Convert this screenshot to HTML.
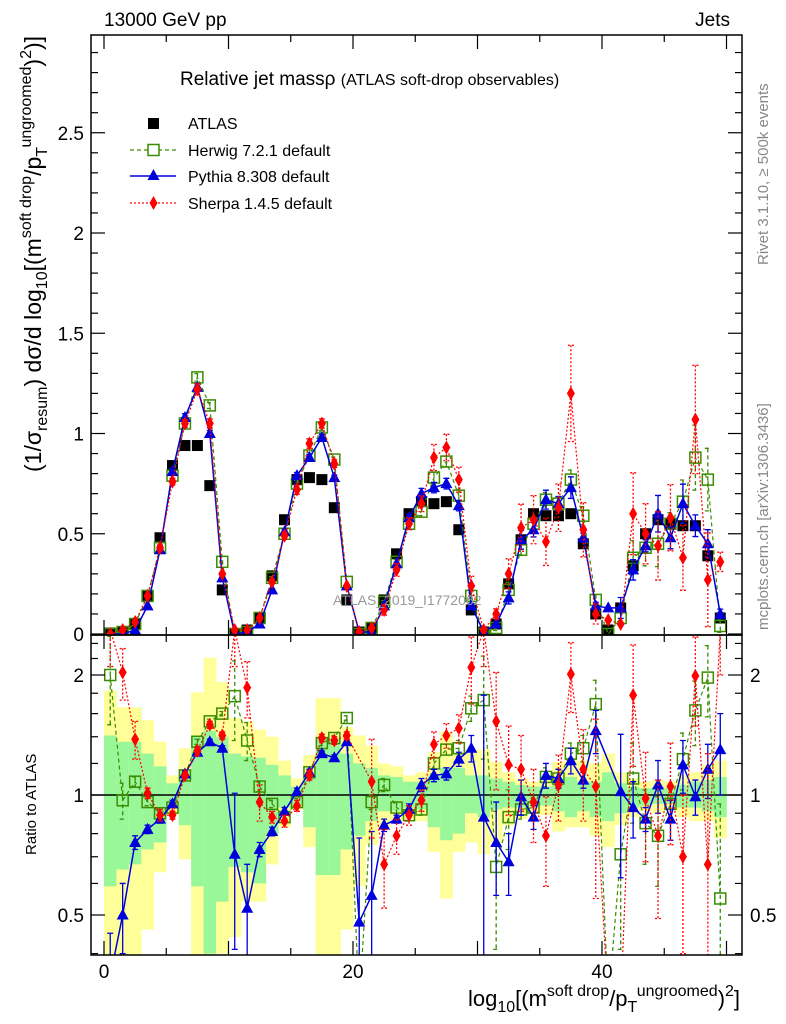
<!DOCTYPE html>
<html><head><meta charset="utf-8"><style>
html,body{margin:0;padding:0;background:#fff;}
svg{display:block;font-family:"Liberation Sans",sans-serif;}
</style></head><body>
<svg id="chart" width="786" height="1024" viewBox="0 0 786 1024" xmlns="http://www.w3.org/2000/svg">
<defs>
<clipPath id="clipMain"><rect x="91" y="35" width="651" height="600"/></clipPath>
<clipPath id="clipRatio"><rect x="91" y="635" width="651" height="320"/></clipPath>
</defs>
<g id="ratioBands" clip-path="url(#clipRatio)"></g>
<line x1="91" y1="795" x2="742" y2="795" stroke="#000" stroke-width="1.5"/>
<g id="mainSeries" clip-path="url(#clipMain)"></g>
<g id="ratioSeries" clip-path="url(#clipRatio)"></g>
<g id="axes"></g>
<rect x="91" y="35" width="651" height="600" fill="none" stroke="#000" stroke-width="1.5"/>
<rect x="91" y="635" width="651" height="320" fill="none" stroke="#000" stroke-width="1.5"/>
<text x="104" y="26" font-size="19">13000 GeV pp</text>
<text x="730" y="26" font-size="19" text-anchor="end">Jets</text>
<text x="180" y="85" font-size="19">Relative jet massρ <tspan font-size="16">(ATLAS soft-drop observables)</tspan></text>
<text transform="translate(768,265) rotate(-90)" font-size="15" fill="#888">Rivet 3.1.10, ≥ 500k events</text>
<text transform="translate(768,630) rotate(-90)" font-size="15" fill="#888">mcplots.cern.ch [arXiv:1306.3436]</text>
<text x="333" y="605" font-size="14" fill="#999">ATLAS_2019_I1772062</text>
<g id="legend">
<g><rect x="148" y="118" width="11" height="11" fill="#000"/><text x="188" y="129" font-size="16">ATLAS</text></g>
<g><line x1="130" y1="150" x2="176" y2="150" stroke="#3a8c00" stroke-width="1.2" stroke-dasharray="4,3"/><rect x="148" y="144.5" width="11" height="11" fill="#fff" stroke="#3a8c00" stroke-width="1.5"/><text x="188" y="156" font-size="16">Herwig 7.2.1 default</text></g>
<g><line x1="130" y1="176" x2="176" y2="176" stroke="#0000dd" stroke-width="1.5"/><path d="M153.5,169 L159.5,180 L147.5,180 Z" fill="#0000dd"/><text x="188" y="182" font-size="16">Pythia 8.308 default</text></g>
<g><line x1="130" y1="203" x2="176" y2="203" stroke="#ff0000" stroke-width="1.2" stroke-dasharray="2,2"/><path d="M153.5,196 L157.5,203 L153.5,210 L149.5,203 Z" fill="#ff0000"/><text x="188" y="209" font-size="16">Sherpa 1.4.5 default</text></g>
</g>
<text transform="translate(41,472) rotate(-90)" font-size="23">(1/σ<tspan font-size="16" dy="6">resum</tspan><tspan dy="-6">) dσ/d log</tspan><tspan font-size="16" dy="6">10</tspan><tspan dy="-6">[(m</tspan><tspan font-size="16" dy="-10">soft drop</tspan><tspan dy="10">/p</tspan><tspan font-size="16" dy="6">T</tspan><tspan font-size="16" dy="-16">ungroomed</tspan><tspan dy="10">)</tspan><tspan font-size="16" dy="-10">2</tspan><tspan dy="10">)]</tspan></text>
<text transform="translate(36,855) rotate(-90)" font-size="15">Ratio to ATLAS</text>
<text x="468" y="1006" font-size="22">log<tspan font-size="16" dy="6">10</tspan><tspan dy="-6">[(m</tspan><tspan font-size="16" dy="-10">soft drop</tspan><tspan dy="10">/p</tspan><tspan font-size="16" dy="6">T</tspan><tspan font-size="16" dy="-16">ungroomed</tspan><tspan dy="10">)</tspan><tspan font-size="16" dy="-10">2</tspan><tspan dy="10">]</tspan></text>
</svg>
<script>
// ---- data ----
const binLow = 0, binWidth = 1;
const atlasVals = [0.005,0.01,0.05,0.19,0.48,0.84,0.94,0.94,0.74,0.22, 0.0,0.02,0.08,0.29,0.57,0.77,0.78,0.77,0.63,0.17, 0.01,0.03,0.17,0.40,0.60,0.66,0.65,0.66,0.52,0.12, 0.01,0.05,0.25,0.47,0.60,0.59,0.59,0.60,0.45,0.10, 0.02,0.13,0.34,0.50,0.57,0.55,0.54,0.54,0.39,0.08];
const herwigVals = [0.0,0.01,0.05,0.19,0.43,0.79,1.05,1.28,1.14,0.36, 0.0,0.01,0.08,0.28,0.50,0.75,0.89,1.03,0.87,0.26, 0.0,0.03,0.16,0.36,0.55,0.61,0.78,0.86,0.69,0.19, 0.0,0.03,0.22,0.42,0.55,0.67,0.65,0.77,0.59,0.17, 0.0,0.08,0.38,0.43,0.45,0.55,0.66,0.88,0.77,0.04];
const pythiaVals = [0.0,0.0,0.02,0.14,0.42,0.81,1.08,1.23,1.0,0.28, 0.0,0.01,0.05,0.22,0.51,0.79,0.88,0.98,0.78,0.24, 0.01,0.01,0.14,0.35,0.58,0.70,0.73,0.75,0.64,0.14, 0.01,0.05,0.18,0.47,0.52,0.67,0.65,0.73,0.48,0.14, 0.13,0.13,0.32,0.44,0.60,0.48,0.65,0.54,0.45,0.10];
const sherpaVals = [0.0,0.02,0.06,0.19,0.43,0.76,1.05,1.22,1.05,0.30, 0.02,0.02,0.08,0.26,0.49,0.72,0.95,1.05,0.85,0.24, 0.01,0.03,0.12,0.32,0.55,0.65,0.88,0.93,0.77,0.24, 0.02,0.10,0.30,0.53,0.57,0.46,0.63,1.20,0.52,0.10, 0.07,0.05,0.60,0.50,0.44,0.58,0.38,1.07,0.27,0.36];
const herwigRatio = [2.0,0.97,1.08,0.96,0.90,0.93,1.12,1.36,1.53,1.60, 1.77,1.37,1.05,0.95,0.88,0.96,1.14,1.35,1.39,1.56, 0.3,0.96,1.06,0.93,0.89, 0.92,1.20,1.30,1.31,1.65, 1.73,0.66,0.88,0.92,0.93,1.11,1.10,1.27,1.31,1.69, 0.3,0.71,1.10,0.85,0.79,0.95,1.23,1.63,1.97,0.55];
const pythiaRatio = [0.35,0.50,0.76,0.82,0.87,0.95,1.13,1.28,1.36,1.31, 0.71,0.52,0.73,0.81,0.91,1.02,1.14,1.27,1.24,1.36, 0.48,0.56,0.84,0.87,0.92, 1.06,1.12,1.13,1.23,1.31, 0.88,0.76,0.68,0.99,0.88,1.12,1.10,1.22,1.09,1.45, null,1.02,0.93,0.87,1.06,0.87,1.19,0.99,1.16,1.30];
const sherpaRatio = [2.6,2.03,1.38,1.01,0.89,0.89,1.12,1.29,1.50,1.41, 2.6,1.86,0.96,0.88,0.86,0.94,1.12,1.39,1.37,1.41, null,1.08,0.67,0.79,0.89, 0.97,1.34,1.41,1.47,2.09, 2.6,1.53,1.19,1.16,0.96,0.79,1.06,2.01,1.16,1.05, 0.3,0.3,1.78,0.98,0.79,1.05,0.70,1.99,0.67,2.6];
const pythiaErr = [0.1,0.1,0.03,0.02,0.02,0.02,0.02,0.02,0.02,0.02, 0.3,0.15,0.03,0.02,0.02,0.02,0.02,0.02,0.02,0.02, 0.3,0.25,0.03,0.02,0.03, 0.04,0.04,0.04,0.05,0.1, 0.9,0.2,0.12,0.1,0.06,0.08,0.06,0.09,0.05,0.18, 0,0.4,0.15,0.06,0.16,0.1,0.18,0.1,0.18,0.3];
const herwigErr = [0.5,0.1,0.03,0.02,0.02,0.02,0.02,0.02,0.02,0.02, 0.4,0.15,0.03,0.02,0.02,0.02,0.02,0.02,0.02,0.02, 0,0.04,0.04,0.03,0.03, 0.03,0.04,0.04,0.06,0.12, 0.5,0.25,0.15,0.05,0.05,0.06,0.06,0.08,0.1,0.25, 0,0.3,0.25,0.18,0.2,0.1,0.2,0.3,0.4,0.4];
const sherpaErr = [0.5,0.3,0.15,0.03,0.03,0.02,0.02,0.03,0.03,0.03, 0.5,0.3,0.1,0.03,0.03,0.03,0.03,0.03,0.03,0.03, 0,0.3,0.15,0.08,0.05, 0.06,0.1,0.1,0.12,0.4, 0.5,0.5,0.3,0.25,0.2,0.2,0.2,0.4,0.3,0.5, 0,0,0.6,0.3,0.3,0.3,0.3,0.5,0.6,0.6];
const yellowHi = [1.83,1.66,1.66,1.54,1.36,1.12,1.31,1.81,2.21,1.92, 1.56,1.53,1.46,1.40,1.22,1.10,1.26,1.75,1.75,1.48, 1.41,1.33,1.20,1.18,1.12, 1.14,1.28,1.44,1.28,1.30, 1.30,1.21,1.14,1.10,1.08,1.10,1.21,1.24,1.22,1.20, 1.27,1.14,1.10,1.08,1.09,1.08,1.12,1.14,1.19,1.22];
const greenHi = [1.41,1.36,1.36,1.27,1.18,1.07,1.16,1.40,1.45,1.40, 1.27,1.25,1.24,1.19,1.12,1.05,1.12,1.39,1.39,1.27, 1.20,1.17,1.12,1.11,1.08, 1.08,1.12,1.17,1.17,1.12, 1.12,1.10,1.08,1.06,1.05,1.05,1.10,1.11,1.08,1.08, 1.14,1.07,1.05,1.04,1.05,1.04,1.06,1.08,1.09,1.11];
const greenLo = [0.59,0.65,0.67,0.73,0.76,0.93,0.84,0.59,0.40,0.54, 0.66,0.64,0.60,0.79,0.93,0.94,0.83,0.63,0.63,0.73, 0.79,0.86,0.91,0.91,0.93, 0.92,0.83,0.77,0.80,0.90, 0.88,0.92,0.93,0.93,0.94,0.94,0.91,0.88,0.91,0.88, 0.86,0.90,0.93,0.94,0.95,0.95,0.93,0.93,0.91,0.88];
const yellowLo = [0.39,0.39,0.39,0.46,0.64,0.89,0.69,0.39,0.39,0.40, 0.44,0.54,0.54,0.67,0.83,0.92,0.74,0.39,0.39,0.46, 0.59,0.75,0.83,0.86,0.87, 0.86,0.72,0.55,0.72,0.76, 0.71,0.76,0.84,0.87,0.90,0.89,0.81,0.83,0.83,0.79, 0.74,0.84,0.88,0.91,0.90,0.92,0.88,0.86,0.86,0.78];
const mainTicks = [0,0.5,1,1.5,2,2.5];
const mainTickLabels = ["0","0.5","1","1.5","2","2.5"];
const ratioTicks = [0.5,1,2];
const ratioTickLabels = ["0.5","1","2"];
const xTicks = [0,20,40];
const xTickLabels = ["0","20","40"];

// ---- scales ----
const X0 = 104, XS = 12.45;
const xs = v => X0 + v*XS;
const ym = v => 634 - v*200.5;
const yr = r => 795 - 120*Math.log2(r);
const NS = "http://www.w3.org/2000/svg";
function mk(tag, attrs, parent){ const e=document.createElementNS(NS,tag); for(const k in attrs) e.setAttribute(k,attrs[k]); parent.appendChild(e); return e; }
const gMain = document.getElementById('mainSeries');
const gRatio = document.getElementById('ratioSeries');
const gBands = document.getElementById('ratioBands');
const gAxes = document.getElementById('axes');
const center = i => xs(binLow + (i+0.5)*binWidth);

for(let i=0;i<yellowHi.length;i++){
  const x1=xs(binLow+i*binWidth), x2=xs(binLow+(i+1)*binWidth);
  const y = mk('rect',{x:x1,y:yr(yellowHi[i]),width:x2-x1+0.3,height:yr(yellowLo[i])-yr(yellowHi[i]),fill:'#ffff99'},gBands);
  
  
  const g = mk('rect',{x:x1,y:yr(greenHi[i]),width:x2-x1+0.3,height:yr(greenLo[i])-yr(greenHi[i]),fill:'#99f799'},gBands);
  
  
}

function marker(kind,x,y,color,parent){
  let e;
  if(kind==='square') e=mk('rect',{x:x-5.5,y:y-5.5,width:11,height:11,fill:'#000'},parent);
  else if(kind==='open') e=mk('rect',{x:x-5.5,y:y-5.5,width:11,height:11,fill:'none',stroke:color,'stroke-width':1.5},parent);
  else if(kind==='tri') e=mk('path',{d:`M${x},${y-6.5} L${x+6},${y+4.5} L${x-6},${y+4.5} Z`,fill:color},parent);
  else e=mk('path',{d:`M${x},${y-7} L${x+4},${y} L${x},${y+7} L${x-4},${y} Z`,fill:color},parent);
  return e;
}

function series(parent, vals, errs, ys, color, dash, kind, name, lw, floor){
  const pts=[];
  vals.forEach((v,i)=>{ if(v!==null) pts.push([center(i), ys(v), i]); });
  if(dash!==null){
    const pl = mk('polyline',{points:pts.map(p=>p[0]+','+p[1]).join(' '),fill:'none',stroke:color,'stroke-width':lw,'stroke-dasharray':dash},parent);
    
    
  }
  pts.forEach(p=>{
    const i=p[2];
    if(errs && errs[i]>0.004){
      const v=vals[i];
      const lo = Math.max(v-errs[i], floor), hi=v+errs[i];
      const eb = mk('path',{d:`M${p[0]},${ys(hi)} L${p[0]},${ys(lo)} M${p[0]-3},${ys(hi)} L${p[0]+3},${ys(hi)} M${p[0]-3},${ys(lo)} L${p[0]+3},${ys(lo)}`,stroke:color,'stroke-width':1.3,fill:'none','stroke-dasharray':dash||'none'},parent);
      
      
    }
    const m = marker(kind,p[0],p[1],color,parent);
    
    
  });
}
const mainErr = (errs) => errs.map((e,i)=> e*atlasVals[i]);
series(gMain, atlasVals, null, ym, '#000', null, 'square', 'atlas', 1, 0);
series(gMain, herwigVals, mainErr(herwigErr), ym, '#3a8c00', '4,3', 'open', 'herwig', 1.2, 0);
series(gMain, pythiaVals, mainErr(pythiaErr), ym, '#0000dd', '0', 'tri', 'pythia', 1.5, 0);
series(gMain, sherpaVals, mainErr(sherpaErr), ym, '#ff0000', '2,2', 'diamond', 'sherpa', 1.2, 0);
series(gRatio, herwigRatio, herwigErr, yr, '#3a8c00', '4,3', 'open', 'herwig-ratio', 1.2, 0.2);
series(gRatio, pythiaRatio, pythiaErr, yr, '#0000dd', '0', 'tri', 'pythia-ratio', 1.5, 0.2);
series(gRatio, sherpaRatio, sherpaErr, yr, '#ff0000', '2,2', 'diamond', 'sherpa-ratio', 1.2, 0.2);

function ln(x1,y1,x2,y2){ const l=mk('line',{x1,y1,x2,y2,stroke:'#000','stroke-width':1.2},gAxes);   }
for(let v=0; v<=2.95; v+=0.1){ const y=ym(v); const maj = Math.abs(v*2-Math.round(v*2))<1e-6; const L=maj?14:7; ln(91,y,91+L,y); ln(742,y,742-L,y); }
mainTicks.forEach((v,i)=>{ const t=mk('text',{x:84,y:ym(v)+7,'font-size':19,'text-anchor':'end'},gAxes); t.textContent=mainTickLabels[i];   });
[0.4,0.5,0.6,0.7,0.8,0.9,1,1.2,1.4,1.6,1.8,2,2.2,2.4].forEach(r=>{ const maj=(r===0.5||r===1||r===2); const L=maj?14:7; ln(91,yr(r),91+L,yr(r)); ln(742,yr(r),742-L,yr(r)); });
ratioTicks.forEach((r,i)=>{
  const t=mk('text',{x:84,y:yr(r)+7,'font-size':19,'text-anchor':'end'},gAxes); t.textContent=ratioTickLabels[i];
   
  const t2=mk('text',{x:750,y:yr(r)+7,'font-size':19},gAxes); t2.textContent=ratioTickLabels[i];
   
});
for(let v=0; v<=50; v+=5){ const x=xs(v); const maj=v%10===0; const L=maj?14:7;
  ln(x,634,x,634-L); ln(x,35,x,35+L); ln(x,955,x,955-L); ln(x,635,x,635+L); }
xTicks.forEach((v,i)=>{ const t=mk('text',{x:xs(v),y:978,'font-size':19,'text-anchor':'middle'},gAxes); t.textContent=xTickLabels[i];   });
</script>
</body></html>
